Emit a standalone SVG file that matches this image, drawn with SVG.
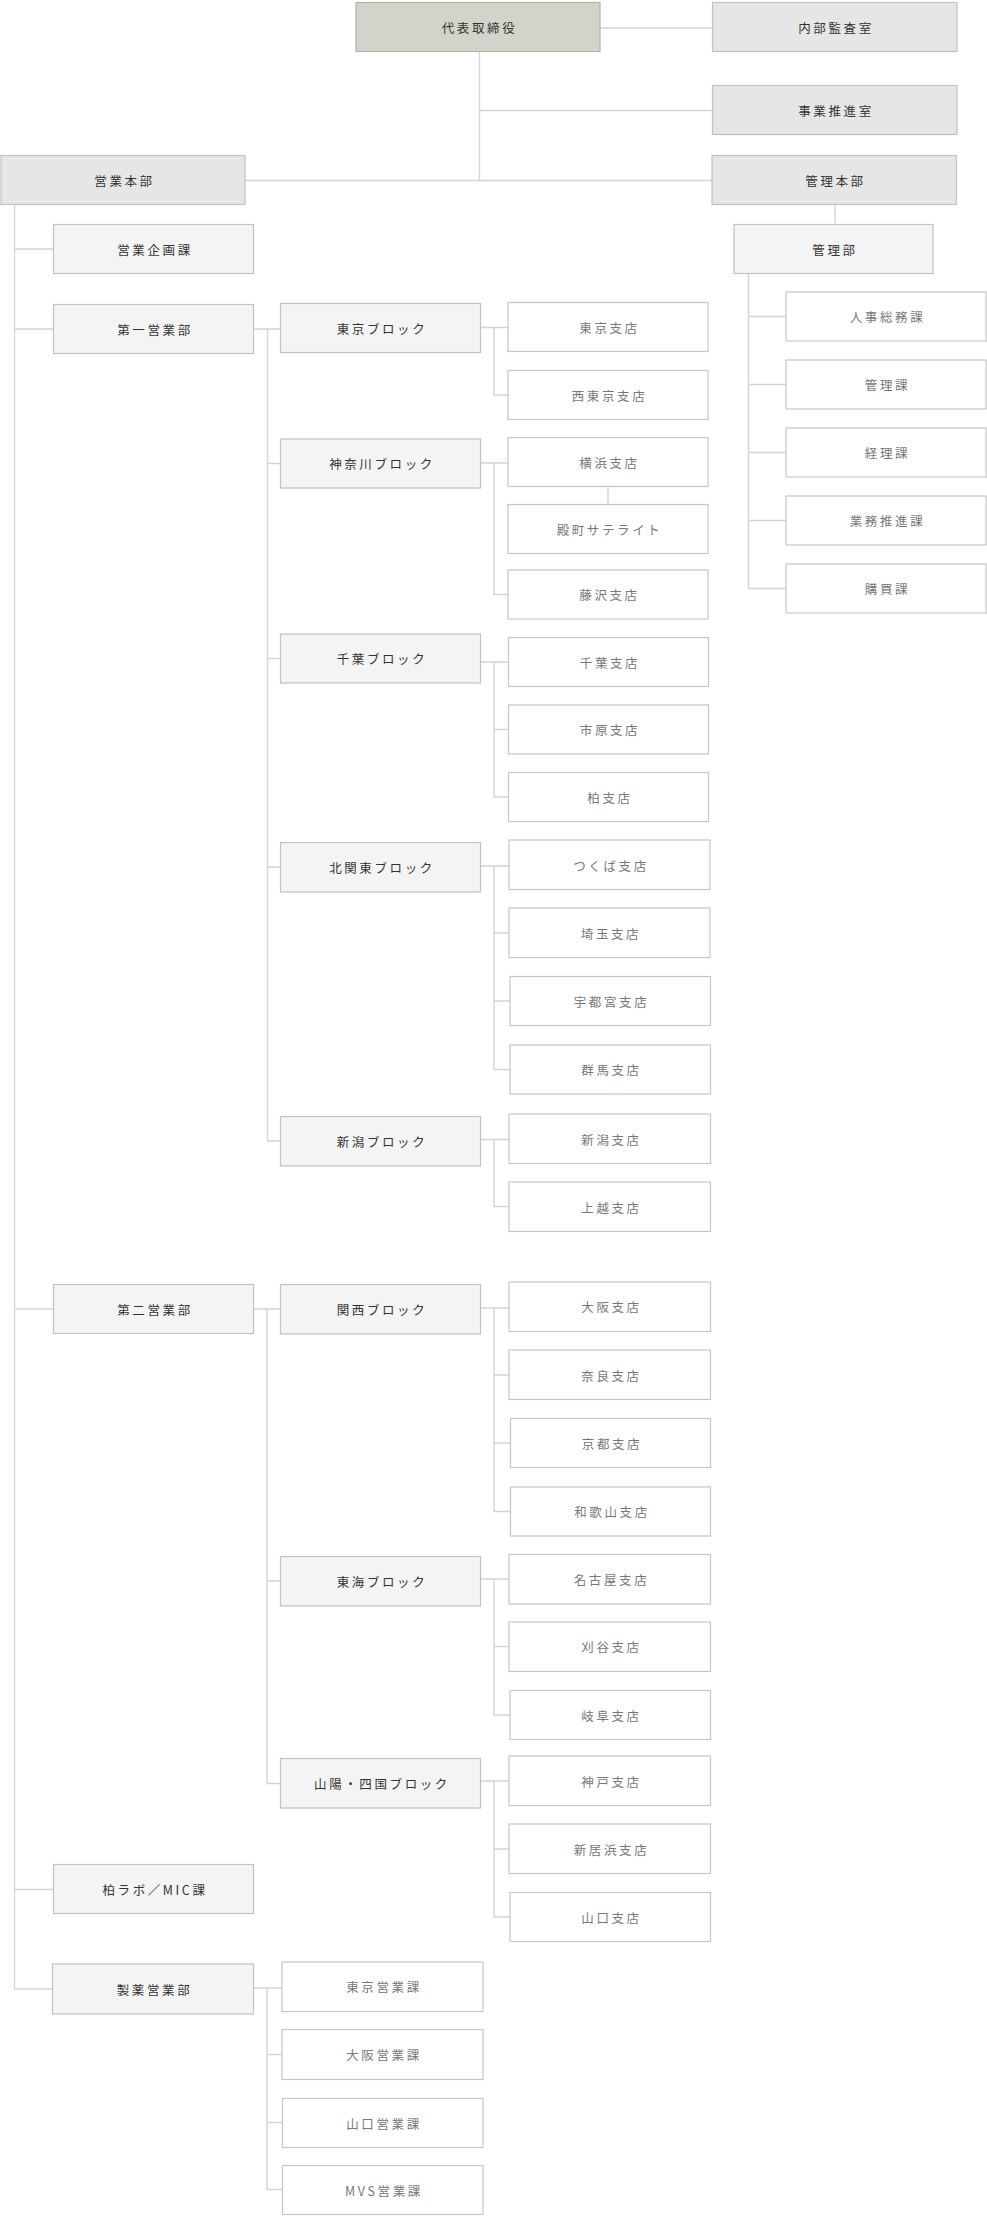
<svg xmlns="http://www.w3.org/2000/svg" width="987" height="2216" viewBox="0 0 987 2216">
<style>
rect{stroke-width:1.2}
.ceo{fill:#d3d3ca;stroke:#b4b4ac}
.l1{fill:#e6e6e6;stroke:#c2c2c2}
.l2{fill:#f4f4f4;stroke:#c2c2c2}
.l3{fill:#ffffff;stroke:#c6c6c6}
text{font-family:"Noto Sans CJK JP","Noto Sans",sans-serif;font-size:12.5px;letter-spacing:2.6px;text-anchor:middle;dominant-baseline:central;fill:#333}
text.g{fill:#777}
#connectors path{fill:none;stroke:#d4d4d4;stroke-width:1.4}
</style>
<rect width="987" height="2216" fill="#fff"/>
<g id="connectors">
<path d="M600,28H712.5M479.5,51.5V180.5M479.5,110.5H712.5M245,180.5H712"/>
<path d="M835,204.5V224.5M748.5,273.5V588.5M748.5,316.5H786M748.5,384.5H786M748.5,452.5H786M748.5,520.5H786M748.5,588.5H786"/>
<path d="M14.5,204.5V1989M14.5,249H53.5M14.5,329H53.5M14.5,1309H53.5M14.5,1889.5H53.5M14.5,1989H52.5"/>
<path d="M253.5,329H280.5M267.5,329V1141M267.5,463.5H280.5M267.5,658.5H280.5M267.5,867H280.5M267.5,1141H280.5"/>
<path d="M480.5,327.5H508M494,327.5V395H508"/>
<path d="M480.5,463H508M494,463V594.5H508M608,486.5V504.5"/>
<path d="M480.5,662H508.5M494,662V797H508.5M494,729.5H508.5"/>
<path d="M480.5,866H509M494,866V1069.5H510M494,933H509M494,1001H510"/>
<path d="M480.5,1139.5H509M494,1139.5V1206.5H509"/>
<path d="M253.5,1309H280.5M267,1309V1783.5M267,1581H280.5M267,1783.5H280.5"/>
<path d="M480.5,1308H509M494,1308V1511.5H510.5M494,1375H509M494,1443H510.5"/>
<path d="M480.5,1579H509M494,1579V1715H510M494,1646.5H509"/>
<path d="M480.5,1781H509M494,1781V1917H510M494,1849H509"/>
<path d="M253,1988H282M267,1988V2189.5H282.5M267,2054.5H282M267,2122.5H282.5"/>
</g>
<g id="ceo"><rect class="ceo" x="356" y="2.5" width="244" height="49"/><text x="479.5" y="27">代表取締役</text></g>
<g id="naibu"><rect class="l1" x="712.5" y="2.5" width="244.5" height="49"/><text x="836" y="27">内部監査室</text></g>
<g id="jigyo"><rect class="l1" x="712.5" y="85.5" width="244.5" height="49"/><text x="836" y="110">事業推進室</text></g>
<g id="eigyo-honbu"><rect class="l1" x="1" y="155.5" width="244" height="49"/><text x="124.5" y="180">営業本部</text></g>
<g id="kanri-honbu"><rect class="l1" x="712" y="155.5" width="244.5" height="49"/><text x="835.5" y="180">管理本部</text></g>
<g id="kanri-bu"><rect class="l2" x="734" y="224.5" width="199" height="49"/><text x="835" y="249">管理部</text></g>
<g id="jinji"><rect class="l3" x="786" y="292" width="200" height="49"/><text class="g" x="887.5" y="316.5">人事総務課</text></g>
<g id="kanri-ka"><rect class="l3" x="786" y="360" width="200" height="49"/><text class="g" x="887.5" y="384.5">管理課</text></g>
<g id="keiri"><rect class="l3" x="786" y="428" width="200" height="49"/><text class="g" x="887.5" y="452.5">経理課</text></g>
<g id="gyomu"><rect class="l3" x="786" y="496" width="200" height="49"/><text class="g" x="887.5" y="520.5">業務推進課</text></g>
<g id="kobai"><rect class="l3" x="786" y="564" width="200" height="49"/><text class="g" x="887.5" y="588.5">購買課</text></g>
<g id="kikaku"><rect class="l2" x="53.5" y="224.5" width="200" height="49"/><text x="155" y="249">営業企画課</text></g>
<g id="dai1"><rect class="l2" x="53.5" y="304.5" width="200" height="49"/><text x="155" y="329">第一営業部</text></g>
<g id="tokyo-block"><rect class="l2" x="280.5" y="303.5" width="200" height="49"/><text x="382" y="328">東京ブロック</text></g>
<g id="kanagawa-block"><rect class="l2" x="280.5" y="439" width="200" height="49"/><text x="382" y="463.5">神奈川ブロック</text></g>
<g id="chiba-block"><rect class="l2" x="280.5" y="634" width="200" height="49"/><text x="382" y="658.5">千葉ブロック</text></g>
<g id="kitakanto-block"><rect class="l2" x="280.5" y="842.5" width="200" height="49.5"/><text x="382" y="867">北関東ブロック</text></g>
<g id="niigata-block"><rect class="l2" x="280.5" y="1116.5" width="200" height="49.5"/><text x="382" y="1141">新潟ブロック</text></g>
<g id="tokyo"><rect class="l3" x="508" y="302.5" width="200" height="49"/><text class="g" x="609.5" y="327">東京支店</text></g>
<g id="nishitokyo"><rect class="l3" x="508" y="370.5" width="200" height="49"/><text class="g" x="609.5" y="395">西東京支店</text></g>
<g id="yokohama"><rect class="l3" x="508" y="437.5" width="200" height="49"/><text class="g" x="609.5" y="462">横浜支店</text></g>
<g id="tonomachi"><rect class="l3" x="508" y="504.5" width="200" height="49"/><text class="g" x="609.5" y="529">殿町サテライト</text></g>
<g id="fujisawa"><rect class="l3" x="508" y="570" width="200" height="49"/><text class="g" x="609.5" y="594.5">藤沢支店</text></g>
<g id="chiba"><rect class="l3" x="508.5" y="637.5" width="200" height="49"/><text class="g" x="610" y="662">千葉支店</text></g>
<g id="ichihara"><rect class="l3" x="508.5" y="705" width="200" height="49"/><text class="g" x="610" y="729.5">市原支店</text></g>
<g id="kashiwa"><rect class="l3" x="508.5" y="772.5" width="200" height="49"/><text class="g" x="610" y="797">柏支店</text></g>
<g id="tsukuba"><rect class="l3" x="509" y="840" width="201" height="49.5"/><text class="g" x="611" y="865">つくば支店</text></g>
<g id="saitama"><rect class="l3" x="509" y="908" width="201" height="49.5"/><text class="g" x="611" y="933">埼玉支店</text></g>
<g id="utsunomiya"><rect class="l3" x="510" y="976.5" width="200.5" height="49"/><text class="g" x="611.5" y="1001">宇都宮支店</text></g>
<g id="gunma"><rect class="l3" x="510" y="1045" width="200.5" height="49"/><text class="g" x="611.5" y="1069.5">群馬支店</text></g>
<g id="niigata"><rect class="l3" x="509" y="1114" width="201.5" height="49.5"/><text class="g" x="611.5" y="1139">新潟支店</text></g>
<g id="joetsu"><rect class="l3" x="509" y="1182" width="201.5" height="49.5"/><text class="g" x="611.5" y="1207">上越支店</text></g>
<g id="dai2"><rect class="l2" x="53.5" y="1284.5" width="200" height="49"/><text x="155" y="1309">第二営業部</text></g>
<g id="kansai-block"><rect class="l2" x="280.5" y="1284.5" width="200" height="49.5"/><text x="382" y="1309">関西ブロック</text></g>
<g id="tokai-block"><rect class="l2" x="280.5" y="1556.5" width="200" height="49.5"/><text x="382" y="1581">東海ブロック</text></g>
<g id="sanyo-block"><rect class="l2" x="280.5" y="1758.5" width="200" height="49.5"/><text x="382" y="1783">山陽・四国ブロック</text></g>
<g id="osaka"><rect class="l3" x="509" y="1282" width="201.5" height="49.5"/><text class="g" x="611.5" y="1306.5">大阪支店</text></g>
<g id="nara"><rect class="l3" x="509" y="1350" width="201.5" height="49.5"/><text class="g" x="611.5" y="1375">奈良支店</text></g>
<g id="kyoto"><rect class="l3" x="510.5" y="1418.5" width="200" height="49"/><text class="g" x="612" y="1443">京都支店</text></g>
<g id="wakayama"><rect class="l3" x="510.5" y="1487" width="200" height="49"/><text class="g" x="612" y="1511.5">和歌山支店</text></g>
<g id="nagoya"><rect class="l3" x="509" y="1554.5" width="201.5" height="49.5"/><text class="g" x="611.5" y="1579">名古屋支店</text></g>
<g id="kariya"><rect class="l3" x="509" y="1622" width="201.5" height="49.5"/><text class="g" x="611.5" y="1646.5">刈谷支店</text></g>
<g id="gifu"><rect class="l3" x="510" y="1690.5" width="200.5" height="49"/><text class="g" x="611.5" y="1715">岐阜支店</text></g>
<g id="kobe"><rect class="l3" x="509" y="1756" width="201.5" height="49.5"/><text class="g" x="611.5" y="1781">神戸支店</text></g>
<g id="niihama"><rect class="l3" x="509" y="1824" width="201.5" height="49.5"/><text class="g" x="611.5" y="1849">新居浜支店</text></g>
<g id="yamaguchi"><rect class="l3" x="510" y="1892.5" width="200.5" height="49"/><text class="g" x="611.5" y="1917">山口支店</text></g>
<g id="kashiwa-lab"><rect class="l2" x="53.5" y="1864.5" width="200" height="49"/><text x="155" y="1889">柏ラボ／MIC課</text></g>
<g id="seiyaku"><rect class="l2" x="52.5" y="1964" width="201" height="50"/><text x="154.5" y="1989">製薬営業部</text></g>
<g id="tokyo-eigyo"><rect class="l3" x="282" y="1962" width="201" height="49.5"/><text class="g" x="384" y="1986.5">東京営業課</text></g>
<g id="osaka-eigyo"><rect class="l3" x="282" y="2029.5" width="201" height="50"/><text class="g" x="384" y="2054.5">大阪営業課</text></g>
<g id="yamaguchi-eigyo"><rect class="l3" x="282.5" y="2098.5" width="200.5" height="49"/><text class="g" x="384" y="2123">山口営業課</text></g>
<g id="mvs-eigyo"><rect class="l3" x="282.5" y="2165.5" width="200.5" height="49"/><text class="g" x="384" y="2190">MVS営業課</text></g>
</svg>
